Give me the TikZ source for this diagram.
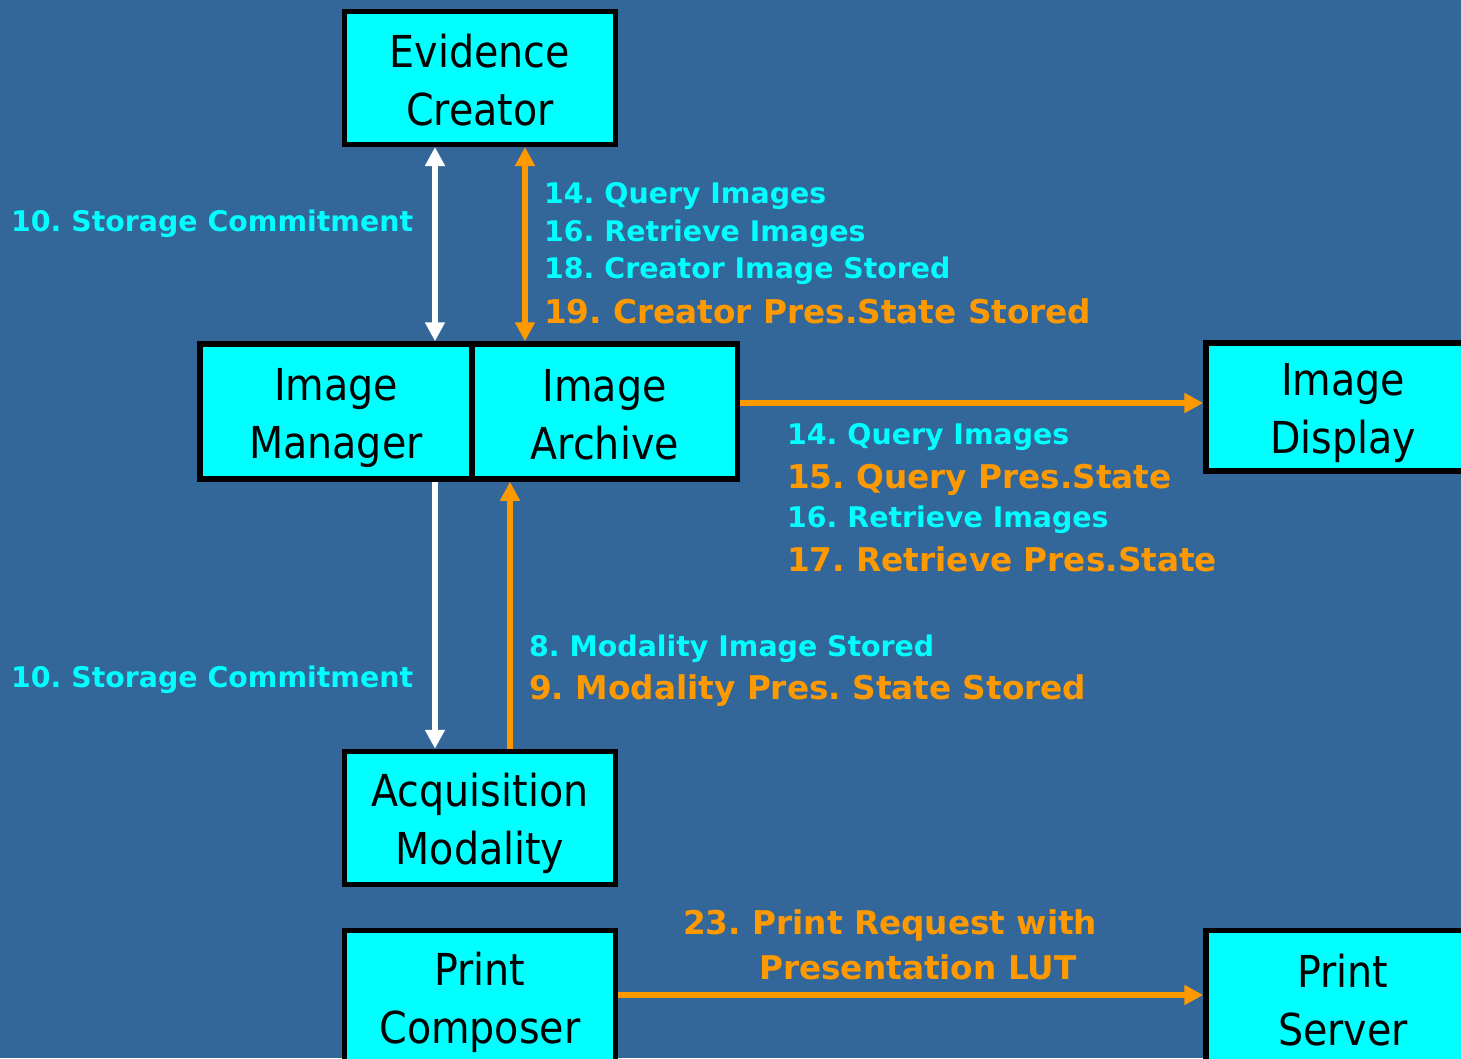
\documentclass[tikz,border=0pt]{standalone}
\usepackage{fontspec}
\newfontfamily\boxfont{DejaVu Sans Condensed}
\newfontfamily\labfont{DejaVu Sans}
\usetikzlibrary{arrows.meta}
\definecolor{bgblue}{RGB}{51,102,153}
\definecolor{boxcyan}{RGB}{0,255,255}
\definecolor{msgorange}{RGB}{255,153,0}
\frenchspacing
% two lines of box text with fixed outer height/depth
\newcommand\twolines[2]{\rule{0pt}{45pt}#1\\#2\rule[-7pt]{0pt}{7pt}}

\begin{document}
\begin{tikzpicture}[x=1pt,y=-1pt,
  >={Triangle[length=19pt,width=19pt]},
  box/.style={draw=black,line width=5.5pt,fill=boxcyan,inner sep=0pt,
    minimum width=271pt,minimum height=133pt,align=center,
    font=\boxfont\fontsize{44}{58}\selectfont},
  msg/.style={anchor=base west,inner sep=0pt,text=boxcyan,
    font=\labfont\bfseries\fontsize{28.4}{34}\selectfont},
  msgbig/.style={msg,text=msgorange,
    font=\labfont\bfseries\fontsize{32.7}{40}\selectfont},
  wline/.style={white,line width=6pt},
  oline/.style={msgorange,line width=6pt}]
\clip (0,0) rectangle (1461,1058);
\fill[bgblue] (0,0) rectangle (1461,1058);

% boxes
\node[box] (creator) at (480,77.75) {\twolines{Evidence}{Creator}};
\node[box,minimum width=272pt,minimum height=135pt] (manager) at (336,411.5) {\twolines{Image}{Manager}};
\node[box,minimum width=265.5pt,minimum height=135pt] (archive) at (604.75,411.5) {\twolines{Image}{Archive}};
\node[box,minimum width=274pt,minimum height=128pt] (display) at (1343,407) {\twolines{Image}{Display}};
\node[box] (modality) at (480,818) {\twolines{Acquisition}{Modality}};
\node[box] (composer) at (480,997) {\twolines{Print}{Composer}};
\node[box,minimum width=274pt] (server) at (1343,997) {\twolines{Print}{Server}};

% connectors
\draw[wline,<->] ([xshift=-45pt]creator.south) -- ([xshift=99pt]manager.north);
\draw[oline,<->] ([xshift=45pt]creator.south) -- ([xshift=-79.75pt]archive.north);
\draw[oline,->] ([yshift=8.5pt]archive.east) -- ([yshift=4pt]display.west);
\draw[wline,->] ([xshift=99pt]manager.south) -- ([xshift=-45pt]modality.north);
\draw[oline,->] ([xshift=30pt]modality.north) -- ([xshift=-94.75pt]archive.south);
\draw[oline,->] ([yshift=2pt]composer.east) -- ([yshift=2pt]server.west);

% messages
\node[msg] (sc1) at (11,231) {10. Storage Commitment};
\node[msg] (sc2) at (11,687) {10. Storage Commitment};
\node[msg] (qi1) at (544,203) {14. Query Images};
\node[msg] (ri1) at (544,241) {16. Retrieve Images};
\node[msg] (cis) at (544,278) {18. Creator Image Stored};
\node[msgbig] (cps) at (544,323) {19. Creator Pres.State Stored};
\node[msg] (qi2) at (787,444) {14. Query Images};
\node[msgbig] (qps) at (787,488) {15. Query Pres.State};
\node[msg] (ri2) at (787,527) {16. Retrieve Images};
\node[msgbig] (rps) at (787,571) {17. Retrieve Pres.State};
\node[msg] (mis) at (529,656) {8. Modality Image Stored};
\node[msgbig] (mps) at (529,699) {9. Modality Pres. State Stored};
\node[msgbig] (prq) at (683,934) {23. Print Request with};
\node[msgbig] (lut) at (759,979) {Presentation LUT};
\end{tikzpicture}
\end{document}
